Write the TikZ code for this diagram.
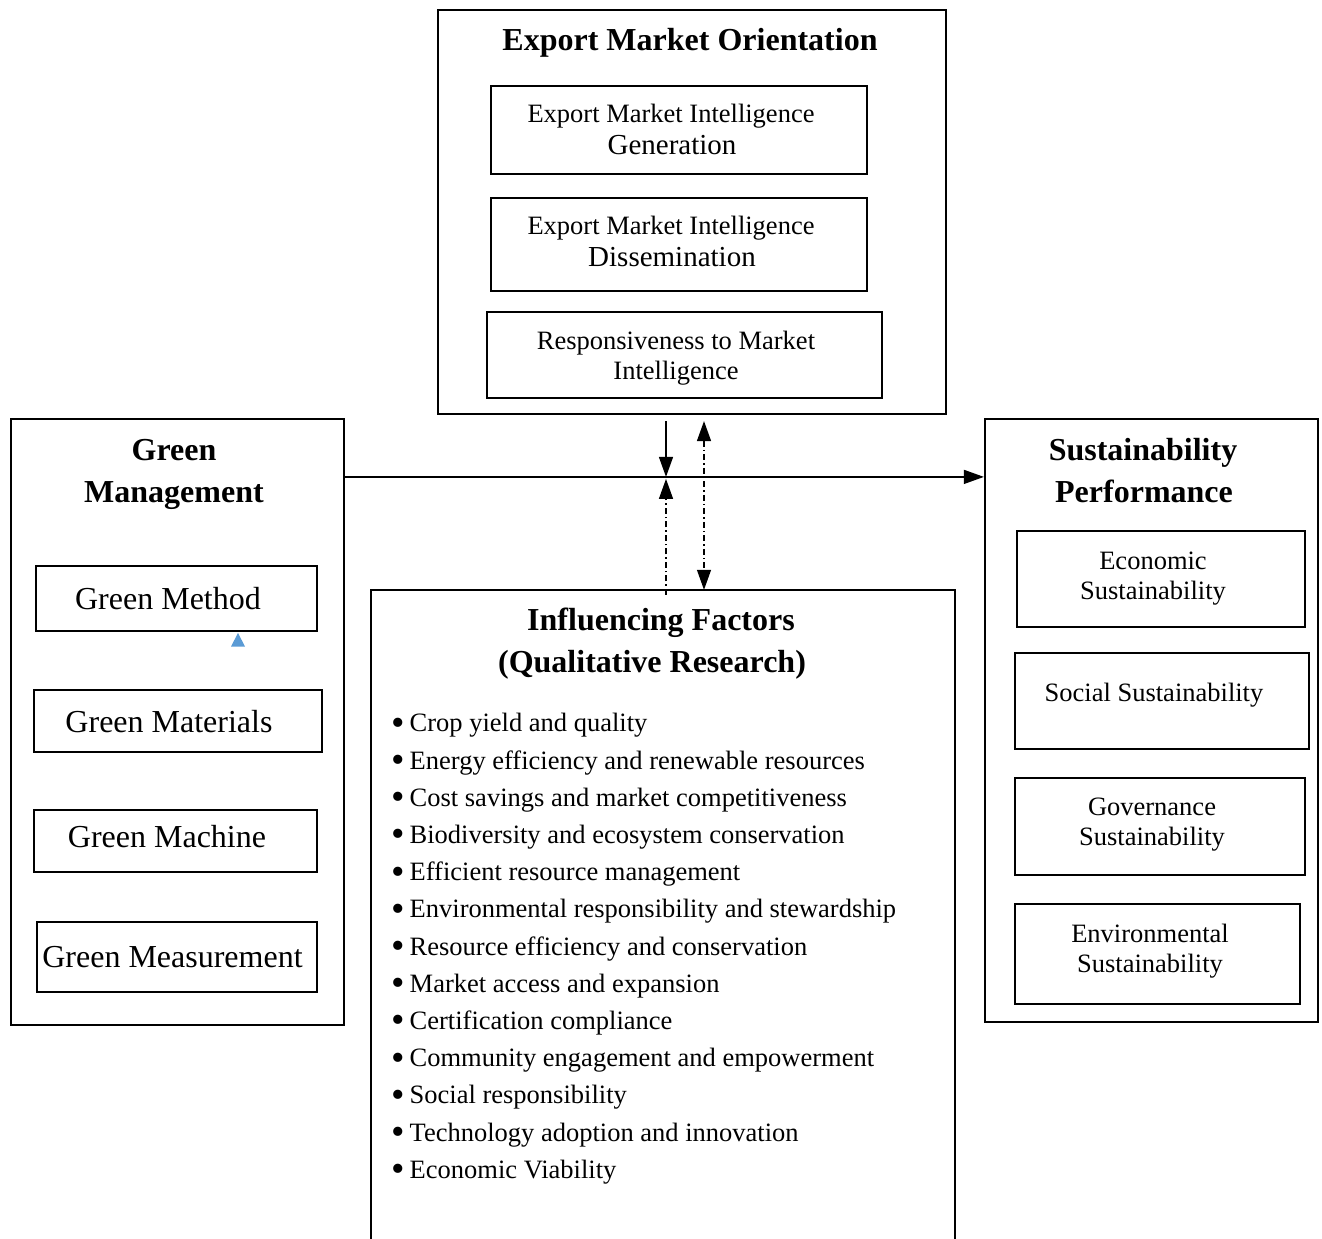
\documentclass[tikz,border=0pt]{standalone}
\usepackage{fontspec}
\setmainfont{Liberation Serif}
\usetikzlibrary{arrows.meta}
\definecolor{markblue}{RGB}{91,155,213}
\newcommand{\bigbullet}{\makebox[19.5pt][l]{\hspace{1pt}\raisebox{-3.4pt}{\scalebox{1.45}{\textbullet}}}}
\begin{document}
\begin{tikzpicture}[x=1pt,y=1pt,
  outerbox/.style={draw,line width=2.2pt,inner sep=0pt},
  innerbox/.style={draw,line width=1.6pt,inner sep=0pt},
  txt/.style={inner sep=0pt,anchor=mid,yshift=-7.5pt},
  ttl/.style={txt,font=\fontsize{32}{38}\selectfont\bfseries},
  big/.style={txt,font=\fontsize{32}{38}\selectfont},
  mdm/.style={txt,font=\fontsize{29}{34}\selectfont},
  sml/.style={txt,font=\fontsize{26.5}{32}\selectfont},
  conn/.style={line width=1.3pt},
  tip/.style={-{Triangle[length=20pt,width=14pt]}},
  dashdot/.style={dash pattern=on 6pt off 3pt on 1.5pt off 3pt}
]
\useasboundingbox (0,0) rectangle (1322,-1239);

% Export market orientation
\node[outerbox,minimum width=508,minimum height=404] (emo) at (692,-212) {};
\node[ttl] (emoT) at (690,-41) {Export Market Orientation};
\node[innerbox,minimum width=376,minimum height=88] (gen) at (679,-130) {};
\node[sml] (gen1) at (671,-113) {Export Market Intelligence};
\node[mdm] (gen2) at (672,-145) {Generation};
\node[innerbox,minimum width=376,minimum height=93] (dis) at (679,-244.5) {};
\node[sml] (dis1) at (671,-225) {Export Market Intelligence};
\node[mdm] (dis2) at (672,-257) {Dissemination};
\node[innerbox,minimum width=395,minimum height=86] (resp) at (684.5,-355) {};
\node[sml] (resp1) at (676,-340) {Responsiveness to Market};
\node[sml] (resp2) at (676,-370) {Intelligence};

% Green management
\node[outerbox,minimum width=333,minimum height=606] (gm) at (177.5,-722) {};
\node[ttl] (gmT1) at (174,-451) {Green};
\node[ttl] (gmT2) at (174,-493) {Management};
\node[innerbox,minimum width=281,minimum height=65] (method) at (176.5,-598.5) {};
\node[big] (methodT) at (168,-600) {Green Method};
\node[innerbox,minimum width=288,minimum height=62] (materials) at (178,-721) {};
\node[big] (materialsT) at (169,-723) {Green Materials};
\node[innerbox,minimum width=283,minimum height=62] (machine) at (175.5,-841) {};
\node[big] (machineT) at (167,-838) {Green Machine};
\node[innerbox,minimum width=280,minimum height=70] (measure) at (177,-957) {};
\node[big] (measureT) at (172.5,-958) {Green Measurement};
\fill[markblue] (231,-646.5) -- (245,-646.5) -- (238,-633) -- cycle;

% Sustainability performance
\node[outerbox,minimum width=333,minimum height=603] (sp) at (1151.5,-720.5) {};
\node[ttl] (spT1) at (1143,-451) {Sustainability};
\node[ttl] (spT2) at (1144,-493) {Performance};
\node[innerbox,minimum width=288,minimum height=96] (econ) at (1161,-579) {};
\node[sml] (econ1) at (1153,-560) {Economic};
\node[sml] (econ2) at (1153,-590) {Sustainability};
\node[innerbox,minimum width=294,minimum height=96] (social) at (1162,-701) {};
\node[sml] (socialT) at (1154,-692) {Social Sustainability};
\node[innerbox,minimum width=290,minimum height=97] (gov) at (1160,-826.5) {};
\node[sml] (gov1) at (1152,-806) {Governance};
\node[sml] (gov2) at (1152,-836) {Sustainability};
\node[innerbox,minimum width=285,minimum height=100] (env) at (1157.5,-954) {};
\node[sml] (env1) at (1150,-933) {Environmental};
\node[sml] (env2) at (1150,-963) {Sustainability};

% Influencing factors (open at the bottom)
\node[inner sep=0pt,minimum width=584,minimum height=660] (inf) at (663,-920) {};
\draw[line width=2.2pt] (inf.south west) -- (inf.north west) -- (inf.north east) -- (inf.south east);
\node[ttl] (infT1) at (661,-621) {Influencing Factors};
\node[ttl] (infT2) at (652,-663) {(Qualitative Research)};
\foreach \t [count=\i] in {Crop yield and quality,
  Energy efficiency and renewable resources,
  Cost savings and market competitiveness,
  Biodiversity and ecosystem conservation,
  Efficient resource management,
  Environmental responsibility and stewardship,
  Resource efficiency and conservation,
  Market access and expansion,
  Certification compliance,
  Community engagement and empowerment,
  Social responsibility,
  Technology adoption and innovation,
  Economic Viability}
  \node[sml,anchor=mid west] (b\i) at (390,{-722-37.2*(\i-1)}) {\bigbullet\t};

% Connectors
\draw[conn,tip] ([yshift=-59pt]gm.north east) -- ([yshift=-59pt]sp.north west);
\coordinate (downS) at ([xshift=-26pt,yshift=-6pt]emo.south);
\coordinate (meet) at ([xshift=-26pt,yshift=-59pt]gm.north east -| emo.south);
\draw[conn,tip] (downS) -- (meet);
\coordinate (upS) at ([yshift=-5pt]inf.north -| meet);
\draw[conn,dashdot,tip] (upS) -- ([yshift=-2pt]meet);
\coordinate (dblT) at ([xshift=12pt,yshift=-6pt]emo.south);
\draw[conn,dashdot,{Triangle[length=20pt,width=14pt]}-{Triangle[length=20pt,width=14pt]}] (dblT) -- (dblT |- inf.north);
\end{tikzpicture}
\end{document}
